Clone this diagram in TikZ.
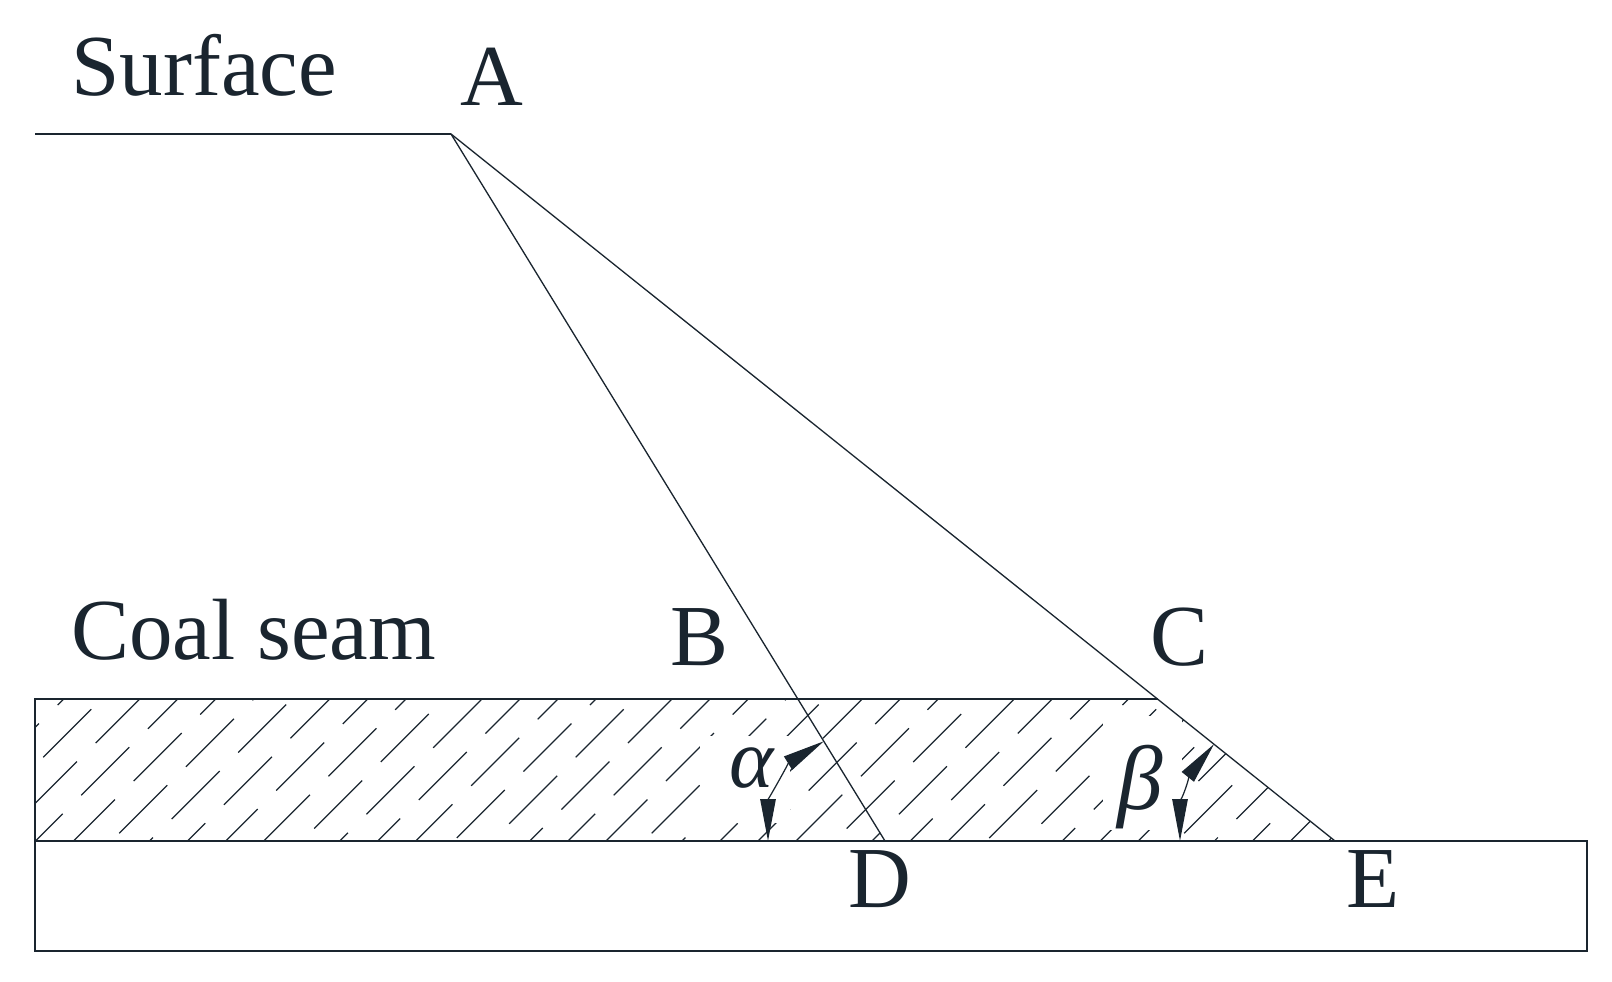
\documentclass[tikz,border=0pt]{standalone}
\usepackage{fontspec}
\setmainfont{Liberation Serif}
\usetikzlibrary{arrows.meta, calc}
\definecolor{inkdark}{RGB}{26, 37, 47}

\begin{document}
\begin{tikzpicture}[
  x=0.02cm, y=-0.02cm, color=inkdark,
  boldline/.style={line width=1.1pt},
  thinline/.style={line width=0.75pt},
  hatchline/.style={line width=0.7pt},
  anglearc/.style={line width=0.7pt, {Stealth[inset=0pt, length=0.84cm, width=0.31cm]}-{Stealth[inset=0pt, length=0.84cm, width=0.31cm]}},
  lbl/.style={anchor=base west, inner sep=0pt, font=\fontsize{49.5}{52}\selectfont},
  greeklbl/.style={lbl, font=\fontsize{48}{50}\selectfont\itshape}
]
  \useasboundingbox (0,0) rectangle (1612,982);
  \coordinate (leftend) at (35,134);
  \coordinate (A) at (451,134);
  \coordinate (seamNW) at (35,699);
  \coordinate (C) at (1158,699);
  \coordinate (seamSW) at (35,841);
  \coordinate (D) at (885,841);
  \coordinate (E) at (1335,841);
  \coordinate (baseSE) at (1587,841);
  \coordinate (floorSW) at (35,951);
  \coordinate (floorSE) at (1587,951);
  % coal seam hatching
  \begin{scope}
    \clip (seamNW) -- (C) -- (E) -- (seamSW) -- cycle;
    \foreach \i in {-2,...,30} {
      \foreach \j in {-4,...,16} {
        \draw[hatchline] ({43.3+52.3*\i+38*\j},{757.3-14.25*\i+38*\j}) -- ++(48,-48);
      }
    }
    % gaps left for the angle marks
    \fill[white] (700,736) rectangle (790,823);
    \fill[white] (1103,716) rectangle (1182,830);
  \end{scope}
  \draw[thinline] (leftend) -- (A);
  \draw[thinline] (A) -- (D);
  \draw[thinline] (A) -- (E);
  \draw[boldline] (C) -- (seamNW) -- (floorSW) -- (floorSE) -- (baseSE) -- (E) -- (seamSW);
  \node[greeklbl] (alphalbl) at (729,787) {α};
  \node[greeklbl, font=\fontsize{52}{54}\selectfont\itshape] (betalbl) at (1117,809) {β};
  \draw[anglearc] ($(D)+(180:117)$) arc[start angle=180, end angle=238.5, radius=117];
  \draw[anglearc] ($(E)+(180:155)$) arc[start angle=180, end angle=218.7, radius=155];
  \node[lbl] (surfacelbl) at (71,96) {Surface};
  \node[lbl] (Albl) at (460,106) {A};
  \node[lbl] (coallbl) at (71,660) {Coal seam};
  \node[lbl] (Blbl) at (670,665) {B};
  \node[lbl] (Clbl) at (1150,665) {C};
  \node[lbl] (Dlbl) at (848,907) {D};
  \node[lbl] (Elbl) at (1346,907) {E};
\end{tikzpicture}
\end{document}
